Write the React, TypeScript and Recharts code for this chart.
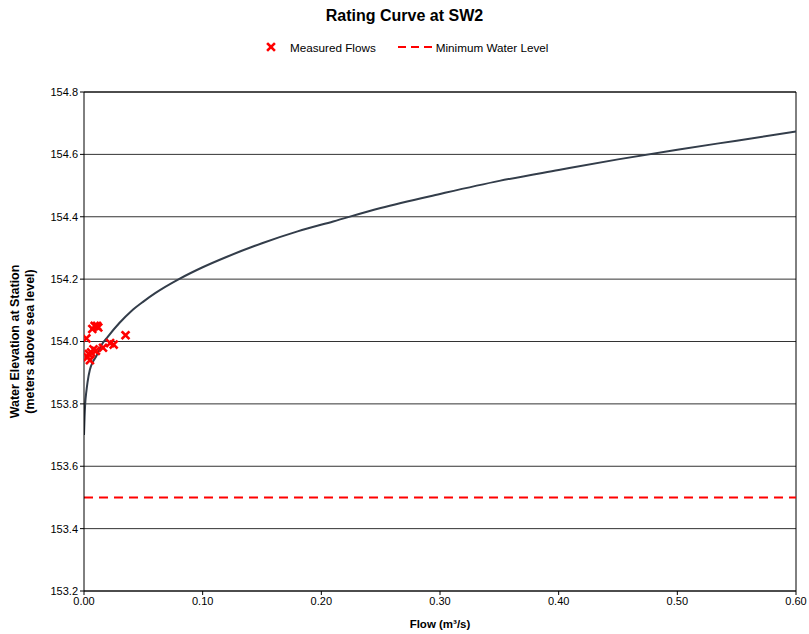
import React from 'react';
import {
  ComposedChart,
  Line,
  Scatter,
  XAxis,
  YAxis,
  CartesianGrid,
  ReferenceLine,
} from 'recharts';

// measured flows (m3/s) and water elevations (m)
const measuredFlow = [0.002, 0.007, 0.009, 0.011, 0.012, 0.003, 0.004, 0.005, 0.006, 0.008, 0.010, 0.016, 0.022, 0.025, 0.035];
const measuredLevel = [154.01, 154.04, 154.05, 154.05, 154.045, 153.95, 153.96, 153.94, 153.965, 153.975, 153.97, 153.98, 153.995, 153.99, 154.02];

// rating curve
const curveFlow = [0, 0.0005, 0.001, 0.002, 0.003, 0.005, 0.0075, 0.01, 0.015, 0.02, 0.03, 0.04, 0.05, 0.06, 0.08, 0.10, 0.12, 0.15, 0.18, 0.21, 0.25, 0.30, 0.35, 0.40, 0.45, 0.50, 0.55, 0.60];
const curveLevel = [153.70, 153.76, 153.80, 153.84, 153.87, 153.91, 153.935, 153.95, 153.99, 154.015, 154.06, 154.098, 154.128, 154.155, 154.2, 154.238, 154.271, 154.315, 154.353, 154.385, 154.428, 154.473, 154.515, 154.55, 154.584, 154.615, 154.644, 154.673];

const minWaterLevel = 153.5;

const xTicks = [0, 0.1, 0.2, 0.3, 0.4, 0.5, 0.6];
const yTicks = [153.2, 153.4, 153.6, 153.8, 154.0, 154.2, 154.4, 154.6, 154.8];

const measured = measuredFlow.map((q, i) => ({ q, h: measuredLevel[i] }));
const curve = curveFlow.map((q, i) => ({ q, h: curveLevel[i] }));

const FONT = '"Liberation Sans", Arial, sans-serif';

const Cross = (props: any) => {
  const { cx, cy } = props;
  const s = 3;
  return (
    <g stroke="#ff0000" strokeWidth={2.6} strokeLinecap="square">
      <line x1={cx - s} y1={cy - s} x2={cx + s} y2={cy + s} />
      <line x1={cx - s} y1={cy + s} x2={cx + s} y2={cy - s} />
    </g>
  );
};

const YLabel = (props: any) => {
  const { viewBox } = props;
  const cy = viewBox.y + viewBox.height / 2;
  return (
    <text
      transform={`translate(19, ${cy}) rotate(-90)`}
      textAnchor="middle"
      fontFamily={FONT}
      fontSize={12.5}
      fontWeight="bold"
      fill="#000"
    >
      <tspan x={0} dy={0}>Water Elevation at Station</tspan>
      <tspan x={0} dy={14.5}>(meters above sea level)</tspan>
    </text>
  );
};

export default function App() {
  return (
    <div style={{ position: 'fixed', left: 0, top: 0, width: 809, height: 634, background: '#fff', fontFamily: FONT }}>
      <div style={{ position: 'absolute', top: 7, left: 0, width: 809, textAlign: 'center', fontSize: 16, fontWeight: 'bold' }}>
        Rating Curve at SW2
      </div>
      <div style={{ position: 'absolute', top: 40, left: 264, fontSize: 11.7, display: 'flex', alignItems: 'center', height: 14 }}>
        <svg width={14} height={14}>
          <g stroke="#ff0000" strokeWidth={2.6} strokeLinecap="square">
            <line x1={4} y1={4} x2={10} y2={10} />
            <line x1={4} y1={10} x2={10} y2={4} />
          </g>
        </svg>
        <span style={{ marginLeft: 12 }}>Measured Flows</span>
        <svg width={35} height={14} style={{ marginLeft: 22 }}>
          <line x1={0} y1={7} x2={35} y2={7} stroke="#ff0000" strokeWidth={2} strokeDasharray="8 5" />
        </svg>
        <span style={{ marginLeft: 3 }}>Minimum Water Level</span>
      </div>
      <ComposedChart
        width={809}
        height={634}
        margin={{ top: 92, right: 13, bottom: 18, left: 34 }}
        style={{ position: 'absolute', left: 0, top: 0 }}
      >
        <CartesianGrid horizontal vertical={false} stroke="#333" strokeWidth={1} />
        <XAxis
          dataKey="q"
          type="number"
          domain={[0, 0.6]}
          ticks={xTicks}
          tickFormatter={(v: number) => v.toFixed(2)}
          stroke="#000"
          tickSize={4}
          height={25}
          tick={{ fill: '#000', fontSize: 11, fontFamily: FONT }}
          allowDataOverflow
          label={{
            value: 'Flow (m³/s)',
            position: 'insideBottom',
            offset: -12,
            fill: '#000',
            fontSize: 11.5,
            fontWeight: 'bold',
            fontFamily: FONT,
          }}
        />
        <YAxis
          dataKey="h"
          type="number"
          domain={[153.2, 154.8]}
          ticks={yTicks}
          tickFormatter={(v: number) => v.toFixed(1)}
          stroke="#000"
          tickSize={4}
          width={50}
          tick={{ fill: '#000', fontSize: 11, fontFamily: FONT }}
          allowDataOverflow
          label={{ content: YLabel }}
        />
        <ReferenceLine x={0.6} stroke="#000" strokeWidth={1} />
        <ReferenceLine y={154.8} stroke="#000" strokeWidth={1} />
        <ReferenceLine y={minWaterLevel} stroke="#ff0000" strokeWidth={2} strokeDasharray="9 6" />
        <Line
          data={curve}
          dataKey="h"
          type="monotone"
          stroke="#333d4a"
          strokeWidth={2}
          dot={false}
          activeDot={false}
          isAnimationActive={false}
        />
        <Scatter data={measured} dataKey="h" shape={Cross} isAnimationActive={false} />
      </ComposedChart>
    </div>
  );
}
